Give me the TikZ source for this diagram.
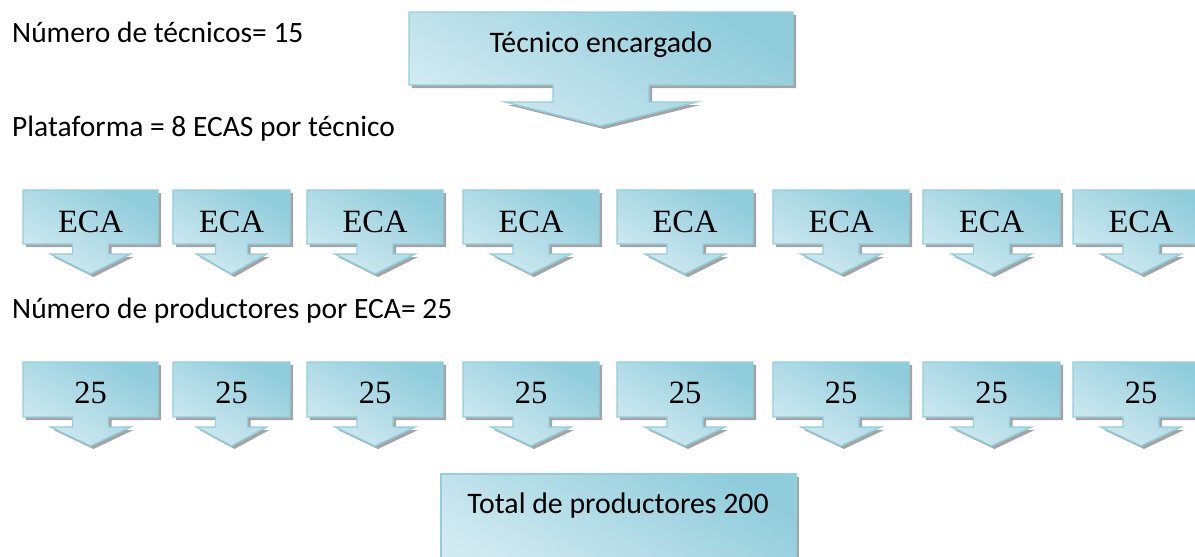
\documentclass[tikz,border=0pt]{standalone}
\usepackage{fontspec}
\setmainfont{Liberation Serif}
\newfontfamily\calib{Carlito}
\definecolor{cdark}{HTML}{90CCDB}
\definecolor{clight}{HTML}{E2F2F7}
\definecolor{cborder}{HTML}{92CEDC}
\definecolor{cshadow}{HTML}{A4A4A4}
\tikzset{
  calfill/.style={draw=cborder,line width=1.4pt,top color=cdark,middle color=clight,bottom color=clight!80!cdark,shading angle=-30},
  calshadow/.style={fill=cshadow},
  lbl/.style={anchor=base west,inner sep=0pt,font=\calib\fontsize{29.5}{34}\selectfont},
  ctext/.style={anchor=base,inner sep=0pt,font=\calib\fontsize{29.8}{34}\selectfont},
  stext/.style={anchor=base,inner sep=0pt,font=\fontsize{32.5}{36}\selectfont},
}
% #1 left #2 right #3 top #4 box bottom #5 stem bottom #6 tip #7 stem half #8 wing half
\newcommand\dcallout[8]{%
  \pgfmathsetmacro\cx{(#1+#2)/2}%
  \foreach \st/\sh in {calshadow/3, calfill/0}{%
  \path[\st,shift={(\sh,\sh)}] (#1,#3) -- (#2,#3) -- (#2,#4) -- ({\cx+#7},#4) -- ({\cx+#7},#5)
    -- ({\cx+#8},#5) -- (\cx,#6) -- ({\cx-#8},#5) -- ({\cx-#7},#5) -- ({\cx-#7},#4)
    -- (#1,#4) -- cycle;}%
}
\begin{document}
\begin{tikzpicture}[x=1pt,y=-1pt]
\useasboundingbox (0,0) rectangle (1195,557);
\clip (0,0) rectangle (1195,557);
% labels
\node[lbl] (l1) at (12,42) {Número de técnicos= 15};
\node[lbl] (l2) at (12,136) {Plataforma = 8 ECAS por técnico};
\node[lbl] (l3) at (12,318) {Número de productores por ECA= 25};
% top callout
\dcallout{409}{793}{12}{85}{102}{126}{48}{96}
\node[ctext] (tec) at (601,52) {Técnico encargado};
% ECA row and 25 row
\foreach \l/\r/\s/\w [count=\i] in {23/158/18/40,173/290/16/35,307/443/18/40,463/599/18/40,617/753/18/40,773/909/18/40,923/1060/18/40,1073/1209/18/40}{
  \dcallout{\l}{\r}{190}{244}{254}{274}{\s}{\w}
  \node[stext] (e\i) at (\cx,232) {ECA};
  \dcallout{\l}{\r}{362}{417}{427}{446}{\s}{\w}
  \node[stext] (p\i) at (\cx,403) {25};
}
% total box
\path[calshadow] (444,477) rectangle (799,580);
\path[calfill] (441,474) rectangle (796,577);
\node[ctext] (tot) at (618,513) {Total de productores 200};
\end{tikzpicture}
\end{document}
